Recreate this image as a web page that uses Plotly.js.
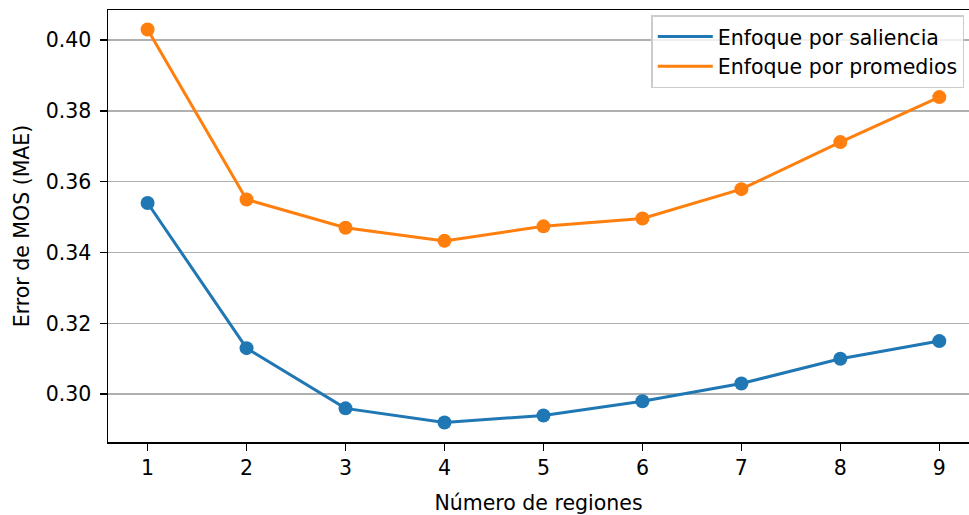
<!DOCTYPE html>
<html>
<head>
<meta charset="utf-8">
<script src="https://cdn.plot.ly/plotly-3.0.1.min.js"></script>
<style>html,body{margin:0;padding:0;background:#fff;}#chart{width:969px;height:515px;}</style>
</head>
<body>
<div id="chart"></div>
<script>
const regions = [1, 2, 3, 4, 5, 6, 7, 8, 9];
const saliencia = [0.354, 0.313, 0.296, 0.292, 0.294, 0.298, 0.303, 0.310, 0.315];
const promedios = [0.403, 0.355, 0.347, 0.3433, 0.3474, 0.3496, 0.3579, 0.3712, 0.3839];
const seriesNames = ["Enfoque por saliencia", "Enfoque por promedios"];
const seriesColors = ["#1f77b4", "#ff7f0e"];
const yTicks = [0.30, 0.32, 0.34, 0.36, 0.38, 0.40];
const yTickText = ["0.30", "0.32", "0.34", "0.36", "0.38", "0.40"];

const FONT = "DejaVu Sans, sans-serif";
const FS = 20.5;

const seriesData = [saliencia, promedios];
const traces = [];
seriesData.forEach((vals, i) => {
  traces.push({x: regions, y: vals, name: seriesNames[i], type: "scatter", mode: "lines",
    line: {color: seriesColors[i], width: 3}, legendgroup: "g" + i});
});
seriesData.forEach((vals, i) => {
  traces.push({x: regions, y: vals, name: seriesNames[i], type: "scatter", mode: "markers",
    marker: {color: seriesColors[i], size: 14}, showlegend: false, legendgroup: "g" + i});
});

const layout = {
  width: 969, height: 515,
  margin: {l: 108, r: 0, t: 10, b: 73},
  paper_bgcolor: "#fff", plot_bgcolor: "#fff",
  font: {family: FONT, size: FS, color: "#000"},
  showlegend: true,
  legend: {x: 0.631, y: 0.988, xanchor: "left", yanchor: "top",
           bgcolor: "rgba(255,255,255,0.8)", bordercolor: "#cccccc", borderwidth: 1.5,
           font: {family: FONT, size: FS, color: "#000"}, itemwidth: 55, tracegroupgap: 0},
  xaxis: {range: [0.6, 9.3], tickvals: regions, ticktext: regions.map(String),
          showgrid: false, zeroline: false, showline: true, linecolor: "#000", linewidth: 1.5,
          mirror: true, ticks: "outside", ticklen: 7, tickwidth: 1.5, tickcolor: "#000",
          title: {text: "Número de regiones", font: {family: FONT, size: FS, color: "#000"}, standoff: 16}},
  yaxis: {range: [0.2865, 0.4085], tickvals: yTicks, ticktext: yTickText,
          showgrid: true, gridcolor: "#b0b0b0", gridwidth: 1.5, zeroline: false,
          showline: true, linecolor: "#000", linewidth: 1.5, mirror: false,
          ticks: "outside", ticklen: 7, tickwidth: 1.5, tickcolor: "#000", ticklabelstandoff: 4,
          title: {text: "Error de MOS (MAE)", font: {family: FONT, size: FS, color: "#000"}, standoff: 10}}
};

Plotly.newPlot("chart", traces, layout, {displayModeBar: false, staticPlot: true});
</script>
</body>
</html>
